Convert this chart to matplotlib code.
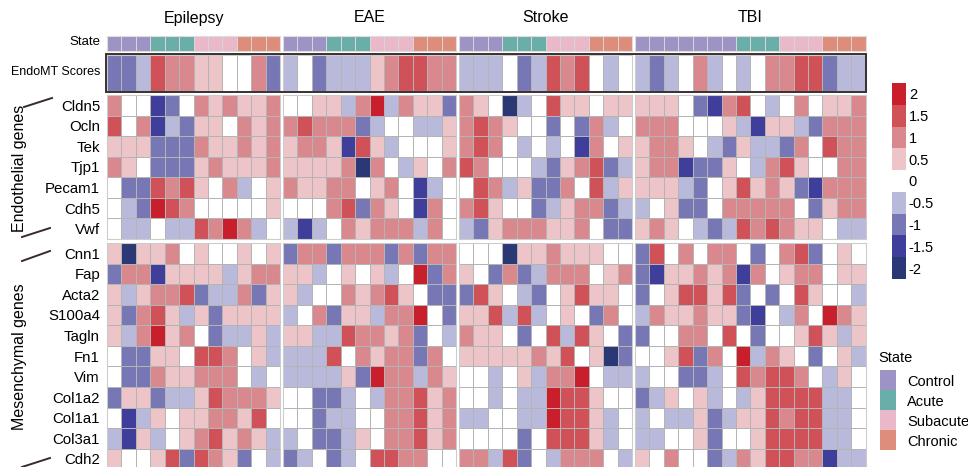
import matplotlib
matplotlib.use('Agg')
import numpy as np
import matplotlib.pyplot as plt
from matplotlib.colors import ListedColormap, BoundaryNorm
from matplotlib.patches import Rectangle
from matplotlib.lines import Line2D

plt.rcParams['font.family'] = ['Liberation Sans', 'DejaVu Sans']

# ---- data ----
diseases = ['Epilepsy', 'EAE', 'Stroke', 'TBI']
states = ['Control', 'Acute', 'Subacute', 'Chronic']
state_counts = {'Epilepsy': [3, 3, 3, 3], 'EAE': [3, 3, 3, 3],
                'Stroke': [3, 3, 3, 3], 'TBI': [7, 3, 3, 3]}
endo_genes = ['Cldn5', 'Ocln', 'Tek', 'Tjp1', 'Pecam1', 'Cdh5', 'Vwf']
mes_genes = ['Cnn1', 'Fap', 'Acta2', 'S100a4', 'Tagln', 'Fn1', 'Vim',
             'Col1a2', 'Col1a1', 'Col3a1', 'Cdh2']

epilepsy_endomt = [-1, -1, -0.5, 1.5, 1, 1, 0.5, 0.5, 0, 0, 1, -1]
epilepsy_endo = [
    [1, 0, 0, -1.5, -1, 0, 1, 0.5, 1, 0.5, 0.5, 1],
    [1.5, 0, 1, -1.5, -0.5, -1, 0.5, 0.5, 0, 1, 0.5, 1],
    [0.5, 0.5, 0.5, -1, -1, -1, 1, 0.5, 0.5, 1, 0.5, 1],
    [1, 0.5, 0, -1, -1, -1, 0.5, 1, 0.5, 0.5, 0.5, 1],
    [0, -1, -1, 1.5, 1, 1.5, 0.5, 0, 1, -0.5, 0, 0.5],
    [0, -0.5, -1, 2, 1.5, 1, 0, 0, 0, 0, 0, 0.5],
    [0, -0.5, -0.5, 0, -0.5, -0.5, 1.5, 1, 2, 1, -0.5, 0],
]
epilepsy_mes = [
    [0.5, -2, 0.5, 0.5, 1, 0, 0.5, 0, 0, 0.5, 0, 0.5],
    [-1, 1, 1, -1.5, 0.5, 0.5, 0.5, 0.5, -0.5, 0.5, 1, 1],
    [0.5, -0.5, 0.5, 1, 1, 1.5, -1, -0.5, -0.5, 1, -1, 0.5],
    [0.5, -1, 1, 1.5, 0.5, -0.5, 0.5, -1, 0.5, 0.5, 0.5, 0.5],
    [0.5, -0.5, 1, 2, 0.5, 1, 0, -1, -0.5, -0.5, 0.5, -0.5],
    [0, -1, -1, 0.5, 0.5, 0, 1.5, 1.5, 1, 0, 0.5, -0.5],
    [0, -1, -1, 1, 0.5, 0.5, 1, 1, 1, 0, -0.5, 0],
    [-1, 0.5, 0.5, -1, -0.5, -0.5, 0.5, 1.5, 1, 1, 1, 0.5],
    [0, -1.5, -0.5, 0.5, 0, 0.5, 0.5, 1, 1, 0.5, 1.5, 0],
    [-0.5, -1.5, 0.5, -0.5, 0, 0.5, 1, 1.5, 0.5, 1, 0.5, -0.5],
    [0.5, 0, 0, 0.5, 1.5, -1, 1.5, 1, 0.5, -1, 0, -0.5],
]

eae_endomt = [-0.5, 0, -1, -0.5, -0.5, -0.5, 0.5, 1, 1.5, 1.5, 1, 1]
eae_endo = [
    [0, 0, 0.5, 0.5, -0.5, 1, 2, -0.5, 1, 0.5, 0.5, -1],
    [1, 1.5, 1, 1, 1, -1, -0.5, 0, 0, -0.5, -0.5, 0.5],
    [0.5, 1, 1, 0.5, -1.5, 1.5, 0.5, -0.5, 0, 0, 0, 0.5],
    [0.5, 0.5, 0.5, 0.5, 1, -2, 1, 0, -0.5, 0.5, 0, 1],
    [1, 0.5, 0.5, 1, 1, 0, 0.5, 1, 0, -1.5, -0.5, 0],
    [0, 0, 0, 1, 1.5, -1, 1, 0.5, 0, -1.5, 1, 0],
    [-0.5, -1.5, -0.5, 0, 1, 0.5, 1, 1, 1, -0.5, 1, 0],
]
eae_mes = [
    [-1, 1, 1, -1, 1, 1, 1, -1, 1, -1, 1, 1],
    [0.5, 0.5, -0.5, 0, 0.5, 0, 0.5, -0.5, 0, 2, -1, 1],
    [0.5, -0.5, 0, 0, 1, 0.5, 1, 1.5, 0.5, 0, -1, -1],
    [-0.5, 0, 1, -1, 0.5, 0.5, -0.5, 1, 1, 2, 0, -1],
    [0.5, 0.5, -0.5, -0.5, 1.5, 1, 1, 0.5, 1, -1, 0, -0.5],
    [-0.5, -0.5, -0.5, 1.5, 0, 1, 0.5, 1, 1, -1, 1, 0],
    [-0.5, -0.5, -0.5, -0.5, 0.5, -1, 2, 1, 1, -0.5, 1, 0.5],
    [0, 0, -1, -1, -0.5, 0, -0.5, 1, 1, 1.5, 0.5, 1],
    [0, 0, -1, -0.5, -0.5, 0, 0, 1, 1, 1.5, 0.5, 1],
    [-0.5, 0, -1, -1, -0.5, 0.5, 0, 1, 1, 1.5, 0.5, 1],
    [-1, -0.5, 0, -1, -0.5, 0, 1.5, 1.5, 1, 1, 0, 0],
]

stroke_endomt = [-0.5, -0.5, -0.5, 0, -1, -0.5, 1.5, 1, 1.5, 0, -0.5, 0]
stroke_endo = [
    [1, 0.5, 0, -2, -0.5, 0, 1.5, 0.5, 0.5, 0, 0.5, 0.5],
    [1, 1.5, 1, 0.5, 0, 0, -1, 0, -1, 1, -0.5, 0],
    [1, 1.5, 1, 0, -0.5, 0, -0.5, 0, -1.5, 1, 0, 0.5],
    [1.5, 1, 0, 0, 0, -0.5, -1, 0.5, 1, 1.5, -1, -0.5],
    [0, 1.5, 1, -0.5, 0.5, -1, -1, 1, 0, 1.5, -0.5, 0.5],
    [1, 1.5, 0.5, 0, 0, -1, -0.5, 0.5, 1, 1, -1, -0.5],
    [-0.5, -1, 0.5, 1, 1, 1, 0.5, 0.5, 1, 0, -1, -1],
]
stroke_mes = [
    [0, 0, 0, -2, 0.5, 0.5, 1, 0.5, 0.5, 0.5, 0, 0],
    [0.5, 0, -1, 1, -1, -0.5, 1, 1, 1, 0, 0.5, 1],
    [-1, 1.5, 0.5, 0, -0.5, -1, 0, 0.5, 1.5, 0.5, 0.5, 0],
    [0.5, 0.5, 1.5, -0.5, 1.5, -0.5, 0, 0.5, 0, -1, 1, 0],
    [1, 0.5, 0.5, 0, -1, 0, 1.5, -0.5, 1.5, 0.5, 0, -1],
    [0.5, 0.5, 0.5, 0.5, 0.5, 1, 0.5, 1.5, 0, 0.5, -2, -1],
    [0, 0, -0.5, 0, 0.5, -0.5, 1, 1, 2, 0, -0.5, -0.5],
    [0, 0, -0.5, 0, -0.5, -0.5, 2, 1.5, 1.5, 0.5, 0, 0],
    [-0.5, -0.5, 0, 0, -0.5, -0.5, 2, 1.5, 1.5, 0.5, -0.5, 0],
    [0, 0, 0, 0, -1, 0, 1.5, 1.5, 1.5, 0.5, -0.5, 0],
    [1, 1, -0.5, 1.5, -1, 0, -0.5, 1, 1, 1, 0, -0.5],
]

tbi_endomt = [-0.5, -1, -0.5, 0, 1, -0.5, 0, -0.5, 0, 1, 1, 1.5, 1.5, -1, -0.5, -0.5]
tbi_endo = [
    [0.5, 0.5, 0.5, 0, -1, -1.5, 1, 1.5, 0, -0.5, 0, 1, 0, 0.5, 0.5, 1],
    [1, 1, 1, 0, 0, 0, 0.5, -0.5, -1.5, 0.5, 0.5, -0.5, -1, 1, 1, 1],
    [0.5, 1, 1, 0.5, 0, -0.5, -1, 0.5, -0.5, -0.5, -1, 1, 0, 1.5, 1, 1],
    [0.5, 1, 1, -1.5, -1, -1, 0.5, 0, -0.5, 1, 1.5, 0.5, 0, 0, 1, 1],
    [0.5, 0.5, 0.5, -0.5, -1, 0, 0.5, 1.5, 0.5, 1, 0.5, -1, -1.5, 1, 1, 1],
    [-0.5, 0, 0.5, -1, -1, 0, 1, 1, 1, 1, 1, 0, -1, 0.5, 1, 1],
    [0.5, 1, 0.5, 0, -0.5, -1, -0.5, 1.5, 1, 1.5, 1, 0.5, 0.5, 0, -0.5, -0.5],
]
tbi_mes = [
    [-1, 1.5, 0, 1, 0, 1, 1, 0, -1, 0, 1, 1.5, -1, 0, 0.5, 0],
    [-1, -1.5, 0.5, 0.5, 1, 0.5, 1, -1.5, 1, 0, 0.5, 1, 1, 0, 0.5, 0.5],
    [-1, 0, 0.5, 1.5, 1.5, 0.5, 1.5, -1, 0, -1, 0, 1.5, 0.5, 0, 0, -0.5],
    [-0.5, 1, 0.5, 0.5, 1, 0.5, 0.5, -1, -1.5, 0, -0.5, 1, 0, 2, 1, 0.5],
    [-1, 0, 0, 1, 1, 0, 1.5, 0, -1, 0, 0, 0.5, 1.5, 0.5, -0.5, 0.5],
    [0, 0, 0.5, 1.5, -1, 1, 0, 2, -0.5, 1, 0.5, 0, -1, 0, 0.5, -0.5],
    [-0.5, 0, 0, -1, -1, -0.5, 0, 1.5, 1, 1.5, 1.5, 1, 0, -0.5, 0.5, 0],
    [-1, -0.5, 0.5, 0, 0.5, -0.5, 0, -0.5, 0.5, 1.5, 1.5, 1.5, 1.5, -0.5, -0.5, 0],
    [-0.5, 0, -0.5, -0.5, 0.5, -1, -0.5, 0.5, 0.5, 1.5, 1, 1.5, 1.5, -0.5, -0.5, 0],
    [-0.5, -0.5, 0, 0, 0.5, -1, 0, 0, 0.5, 1.5, 1.5, 1.5, 1.5, -0.5, -0.5, 0],
    [0.5, 0, 1, 0, 0, -1, -0.5, 1, 0.5, 1.5, 1.5, 1, 1, -1.5, -0.5, -0.5],
]

scale_levels = [2, 1.5, 1, 0.5, 0, -0.5, -1, -1.5, -2]

endomt_data = {'Epilepsy': epilepsy_endomt, 'EAE': eae_endomt,
               'Stroke': stroke_endomt, 'TBI': tbi_endomt}
endo_data = {'Epilepsy': epilepsy_endo, 'EAE': eae_endo,
             'Stroke': stroke_endo, 'TBI': tbi_endo}
mes_data = {'Epilepsy': epilepsy_mes, 'EAE': eae_mes,
            'Stroke': stroke_mes, 'TBI': tbi_mes}

# ---- colours ----
level_colors = ['#2b3876', '#3f3f9b', '#7677b4', '#b9badb', '#ffffff',
                '#edc5c9', '#d9888d', '#d05258', '#c91f2c']
cmap = ListedColormap(level_colors)
norm = BoundaryNorm(np.arange(-2.25, 2.5, 0.5), cmap.N)
state_colors = ['#9d93c5', '#6aaea9', '#e9b9c9', '#de8d7b']
state_cmap = ListedColormap(state_colors)
grid_col = '#b4b4b4'

W, H = 968, 467
fig = plt.figure(figsize=(W / 100, H / 100), dpi=100)


def px_axes(x0, y0, x1, y1):
    return fig.add_axes([x0 / W, 1 - y1 / H, (x1 - x0) / W, (y1 - y0) / H])


def clean(ax, spine_col='#cccccc'):
    ax.set_xticks([])
    ax.set_yticks([])
    for s in ax.spines.values():
        s.set_color(spine_col)
        s.set_linewidth(0.8)


cw = 14.42
x_starts = [107, 283, 459, 635]
row_h = 20.57

for d, x0 in zip(diseases, x_starts):
    n = sum(state_counts[d])
    x1 = x0 + n * cw
    codes = np.repeat(np.arange(4), state_counts[d])

    ax = px_axes(x0, 36, x1, 51)
    ax.pcolormesh(codes[None, :], cmap=state_cmap, vmin=-0.5, vmax=3.5,
                  edgecolors='#d6d6d6', linewidth=0.5)
    clean(ax, '#dddddd')
    fig.text((x0 + x1) / 2 / W, 1 - 18 / H, d, ha='center', va='center', fontsize=11.5)

    ax = px_axes(x0, 55, x1, 91)
    ax.pcolormesh(np.array(endomt_data[d])[None, :], cmap=cmap, norm=norm,
                  edgecolors=grid_col, linewidth=0.6)
    clean(ax)

    ax = px_axes(x0, 95, x1, 95 + 7 * row_h)
    ax.pcolormesh(np.array(endo_data[d]), cmap=cmap, norm=norm,
                  edgecolors=grid_col, linewidth=0.6)
    ax.invert_yaxis()
    clean(ax)
    if d == 'Epilepsy':
        ax.set_yticks(np.arange(len(endo_genes)) + 0.5)
        ax.set_yticklabels(endo_genes, fontsize=10.8)
        ax.tick_params(axis='y', length=0, pad=5)

    ax = px_axes(x0, 243, x1, 243 + 11 * row_h)
    ax.pcolormesh(np.array(mes_data[d]), cmap=cmap, norm=norm,
                  edgecolors=grid_col, linewidth=0.6)
    ax.invert_yaxis()
    clean(ax)
    if d == 'Epilepsy':
        ax.set_yticks(np.arange(len(mes_genes)) + 0.5)
        ax.set_yticklabels(mes_genes, fontsize=10.8)
        ax.tick_params(axis='y', length=0, pad=5)

# thick border around EndoMT score row
fig.add_artist(Rectangle((106 / W, 1 - 92 / H), (866 - 106) / W, 38 / H,
                         transform=fig.transFigure, fill=False,
                         edgecolor='#3a3030', linewidth=1.4))

fig.text(100 / W, 1 - 42 / H, 'State', ha='right', va='center', fontsize=9.5)
fig.text(100 / W, 1 - 72 / H, 'EndoMT Scores', ha='right', va='center', fontsize=9)

fig.text(20 / W, 1 - 168 / H, 'Endothelial genes', rotation=90,
         ha='center', va='center', fontsize=11.5)
fig.text(20 / W, 1 - 357 / H, 'Mesenchymal genes', rotation=90,
         ha='center', va='center', fontsize=11.5)
for (xa, ya, xb, yb) in [(24, 107, 52, 98), (22, 237, 50, 228),
                         (22, 261, 50, 251), (22, 467, 50, 458)]:
    fig.add_artist(Line2D([xa / W, xb / W], [1 - ya / H, 1 - yb / H],
                          transform=fig.transFigure, color='#3a2a2a', linewidth=1.4))

# discrete colour scale legend
cax = px_axes(892, 83, 906, 279)
cax.pcolormesh(np.array(scale_levels)[:, None], cmap=cmap, norm=norm)
cax.invert_yaxis()
cax.set_xticks([])
cax.yaxis.tick_right()
cax.set_yticks(np.arange(len(scale_levels)) + 0.5)
cax.set_yticklabels([f'{v:g}' for v in scale_levels], fontsize=10.5)
cax.tick_params(axis='y', length=0, pad=2)
for s in cax.spines.values():
    s.set_visible(False)

# state legend
sax = px_axes(880, 370, 896, 450)
sax.pcolormesh(np.arange(4)[:, None], cmap=state_cmap, vmin=-0.5, vmax=3.5)
sax.invert_yaxis()
sax.set_xticks([])
sax.yaxis.tick_right()
sax.set_yticks(np.arange(4) + 0.5)
sax.set_yticklabels(states, fontsize=10.5)
sax.tick_params(axis='y', length=0, pad=8)
for s in sax.spines.values():
    s.set_visible(False)
fig.text(878 / W, 1 - 358 / H, 'State', ha='left', va='center', fontsize=10.5)

fig.savefig('out.png', dpi=100)
